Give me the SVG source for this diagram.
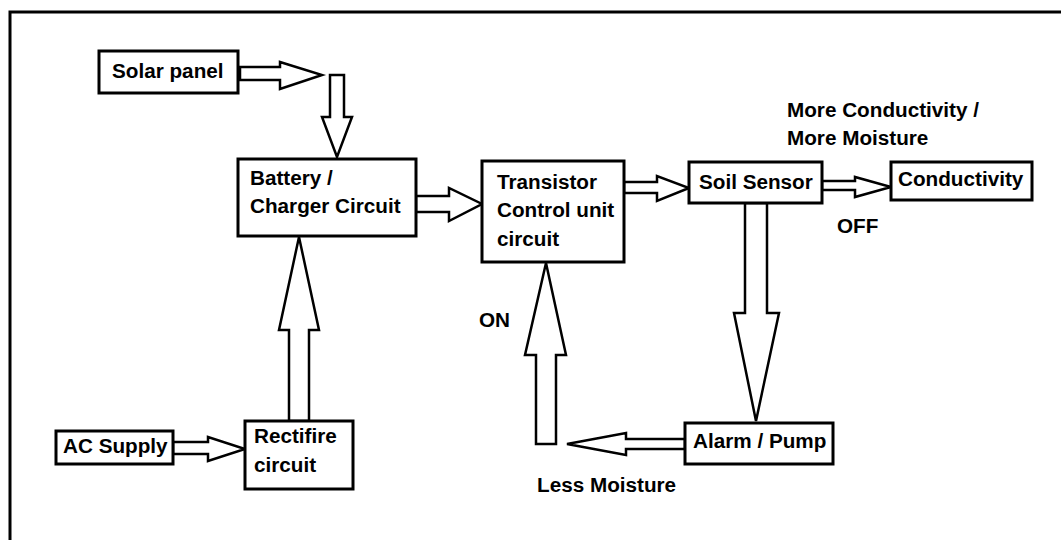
<svg xmlns="http://www.w3.org/2000/svg" width="1061" height="540" viewBox="0 0 1061 540">
<style>
.box{fill:#fff;stroke:#000;stroke-width:3}
.arr{fill:#fff;stroke:#000;stroke-width:2.5;stroke-linejoin:miter}
text{font-family:"Liberation Sans",Arial,sans-serif;font-weight:bold;font-size:20.7px;fill:#000}
</style>
<rect x="0" y="0" width="1061" height="540" fill="#fff"/>
<rect x="10" y="12" width="1070" height="560" fill="none" stroke="#000" stroke-width="3"/>
<g id="connectors">
<polygon class="arr" points="240,67 280,67 280,62 322,75 280,89 280,80 240,80"/>
<polygon class="arr" points="330,75 344,75 344,117 352,117 337,157 322,117 330,117"/>
<polygon class="arr" points="416,196 449,196 449,188 482,204 449,221 449,212 416,212"/>
<polygon class="arr" points="624,182 657,182 657,176 689,188 657,201 657,193 624,193"/>
<polygon class="arr" points="822,181 855,181 855,177 891,187 855,197 855,190 822,190"/>
<polygon class="arr" points="745,203 767,203 767,313 779,313 756,421 734,313 745,313"/>
<polygon class="arr" points="685,439 626,439 626,433 567,444 626,455 626,449 685,449"/>
<polygon class="arr" points="536,444 556,444 556,355 566,355 546,263 525,355 536,355"/>
<polygon class="arr" points="173,442 208,442 208,437 245,449 208,461 208,454 173,454"/>
<polygon class="arr" points="289,421 309,421 309,330 319,330 299,237 279,330 289,330"/>
</g>
<g id="solar"><rect class="box" x="99" y="51" width="139" height="42"/><text x="112" y="78">Solar panel</text></g>
<g id="battery"><rect class="box" x="238" y="159" width="178" height="77"/><text x="250" y="185">Battery /</text><text x="250" y="213">Charger Circuit</text></g>
<g id="transistor"><rect class="box" x="482" y="161" width="142" height="101"/><text x="497" y="189">Transistor</text><text x="497" y="217">Control unit</text><text x="497" y="246">circuit</text></g>
<g id="soil"><rect class="box" x="689" y="162" width="133" height="41"/><text x="699" y="189">Soil Sensor</text></g>
<g id="conductivity"><rect class="box" x="891" y="162" width="141" height="38"/><text x="898" y="186">Conductivity</text></g>
<g id="alarm"><rect class="box" x="685" y="423" width="148" height="41"/><text x="693" y="448">Alarm / Pump</text></g>
<g id="rectifier"><rect class="box" x="245" y="421" width="108" height="68"/><text x="254" y="443">Rectifire</text><text x="254" y="472">circuit</text></g>
<g id="ac"><rect class="box" x="56" y="431" width="117" height="33"/><text x="63" y="453">AC Supply</text></g>
<g id="labels">
<text x="787" y="117">More Conductivity /</text>
<text x="787" y="145">More Moisture</text>
<text x="837" y="233">OFF</text>
<text x="479" y="327">ON</text>
<text x="537" y="492">Less Moisture</text>
</g>
</svg>
